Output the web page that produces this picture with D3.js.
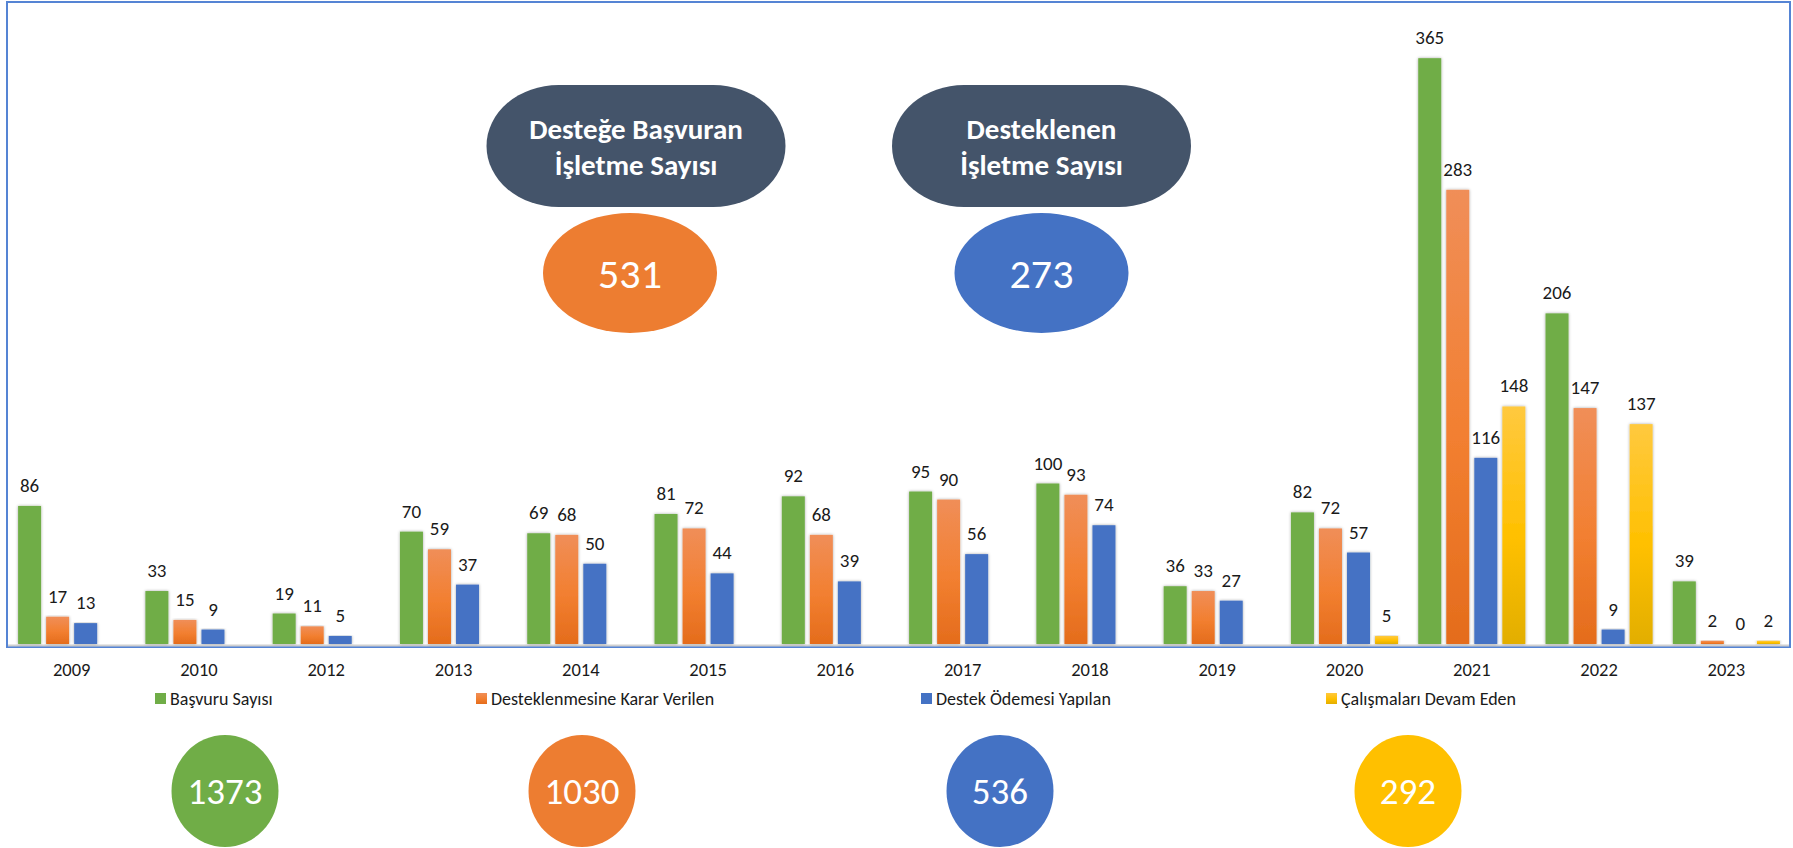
<!DOCTYPE html>
<html><head><meta charset="utf-8">
<script src="https://cdn.jsdelivr.net/npm/d3@7/dist/d3.min.js"></script>
<style>
html,body{margin:0;padding:0;background:#fff;}
svg{display:block;font-family:Calibri,Carlito,Lato,sans-serif;}
</style></head>
<body>
<svg id="chart" width="1793" height="848"></svg>
<script>
const years = ["2009","2010","2012","2013","2014","2015","2016","2017","2018","2019","2020","2021","2022","2023"];
const seriesNames = ["Başvuru Sayısı","Desteklenmesine Karar Verilen","Destek Ödemesi Yapılan","Çalışmaları Devam Eden"];
const basvuru = [86,33,19,70,69,81,92,95,100,36,82,365,206,39];
const karar   = [17,15,11,59,68,72,68,90,93,33,72,283,147,2];
const odeme   = [13,9,5,37,50,44,39,56,74,27,57,116,9,0];
const devam   = [null,null,null,null,null,null,null,null,null,null,5,148,137,2];
const topTitles = [["Desteğe Başvuran","İşletme Sayısı"],["Desteklenen","İşletme Sayısı"]];
const topTotals = [531, 273];
const bottomTotals = [1373, 1030, 536, 292];

const colors = ["#70ad47","#ed7d31","#4472c4","#ffc000"];
const seriesData = [basvuru, karar, odeme, devam];

const svg = d3.select("#chart");
const defs = svg.append("defs");
const f = defs.append("filter").attr("id","sh").attr("x","-30%").attr("y","-5%").attr("width","160%").attr("height","110%");
f.append("feDropShadow").attr("dx",0).attr("dy",0).attr("stdDeviation",1.6).attr("flood-color","#000").attr("flood-opacity",0.35);
const gO = defs.append("linearGradient").attr("id","gO").attr("x1",0).attr("y1",0).attr("x2",0).attr("y2",1);
gO.append("stop").attr("offset","0%").attr("stop-color","#f08e58");
gO.append("stop").attr("offset","55%").attr("stop-color","#f27f30");
gO.append("stop").attr("offset","100%").attr("stop-color","#e46c1c");
const gY = defs.append("linearGradient").attr("id","gY").attr("x1",0).attr("y1",0).attr("x2",0).attr("y2",1);
gY.append("stop").attr("offset","0%").attr("stop-color","#ffc93f");
gY.append("stop").attr("offset","55%").attr("stop-color","#ffc000");
gY.append("stop").attr("offset","100%").attr("stop-color","#e2ae00");
const fills = ["#70ad47","url(#gO)","#4472c4","url(#gY)"];

// frame
svg.append("rect").attr("x",7).attr("y",2).attr("width",1783).attr("height",645)
  .attr("fill","none").attr("stroke","#5584d4").attr("stroke-width",2);

const x0 = d3.scaleBand().domain(years).range([8,1790]).padding(0);
const x1 = d3.scaleBand().domain(d3.range(4)).range([10.1,117.2]).paddingInner(0.18);
const y = d3.scaleLinear().domain([0,400]).range([644,2]);

// axis line
svg.append("line").attr("x1",8).attr("x2",1789).attr("y1",645.5).attr("y2",645.5)
  .attr("stroke","#d0d0d0").attr("stroke-width",2);

const groups = svg.append("g").selectAll("g").data(years).join("g")
  .attr("transform", d => `translate(${x0(d)},0)`);

groups.each(function(yr, i){
  const g = d3.select(this);
  seriesData.forEach((arr, s) => {
    const v = arr[i];
    if (v === null || v === undefined) return;
    if (v > 0) {
      g.append("rect").attr("x", x1(s)).attr("width", x1.bandwidth())
        .attr("y", y(v)).attr("height", y(0) - y(v))
        .attr("fill", fills[s]).attr("filter","url(#sh)");
    }
    g.append("text").attr("x", x1(s) + x1.bandwidth()/2).attr("y", y(v) - 14)
      .attr("text-anchor","middle").attr("font-size",19).attr("fill","#1a1a1a").text(v);
  });
});

// x axis labels
const xAxis = d3.axisBottom(x0).tickSize(0).tickPadding(0);
const ax = svg.append("g").attr("transform","translate(0,663)").call(xAxis);
ax.select(".domain").remove();
ax.selectAll("text").attr("font-size",18.5).attr("fill","#1a1a1a")
  .attr("font-family","Calibri,Carlito,Lato,sans-serif").attr("dy","0.71em").attr("y",0);

// legend
const legX = [155, 476, 921, 1326];
const leg = svg.append("g").selectAll("g").data(seriesNames).join("g")
  .attr("transform",(d,i)=>`translate(${legX[i]},693)`);
leg.append("rect").attr("width",11).attr("height",11).attr("fill",(d,i)=>fills[i]);
leg.append("text").attr("x",15).attr("y",11.5).attr("font-size",18).attr("fill","#1a1a1a").text(d=>d);

// top pills
const pillCx = [636, 1041.5];
topTitles.forEach((t,i)=>{
  svg.append("rect").attr("x",pillCx[i]-149.5).attr("y",85).attr("width",299).attr("height",122)
    .attr("rx",72).attr("ry",61).attr("fill","#44546a");
  svg.append("text").attr("x",pillCx[i]).attr("y",139).attr("text-anchor","middle")
    .attr("font-size",29).attr("font-weight","bold").attr("fill","#fff").text(t[0]);
  svg.append("text").attr("x",pillCx[i]).attr("y",175).attr("text-anchor","middle")
    .attr("font-size",29).attr("font-weight","bold").attr("fill","#fff").text(t[1]);
});
const topCx = [630, 1041.5];
const topCol = ["#ed7d31","#4472c4"];
topTotals.forEach((v,i)=>{
  svg.append("ellipse").attr("cx",topCx[i]).attr("cy",273).attr("rx",87).attr("ry",60).attr("fill",topCol[i]);
  svg.append("text").attr("x",topCx[i]).attr("y",273).attr("dy","0.36em").attr("text-anchor","middle")
    .attr("font-size",42).attr("fill","#fff").text(v);
});

// bottom totals
const botCx = [225, 582, 1000, 1408];
bottomTotals.forEach((v,i)=>{
  svg.append("ellipse").attr("cx",botCx[i]).attr("cy",791).attr("rx",53.5).attr("ry",56).attr("fill",colors[i]);
  svg.append("text").attr("x",botCx[i]).attr("y",791).attr("dy","0.36em").attr("text-anchor","middle")
    .attr("font-size",37).attr("fill","#fff").text(v);
});
</script>
</body></html>
